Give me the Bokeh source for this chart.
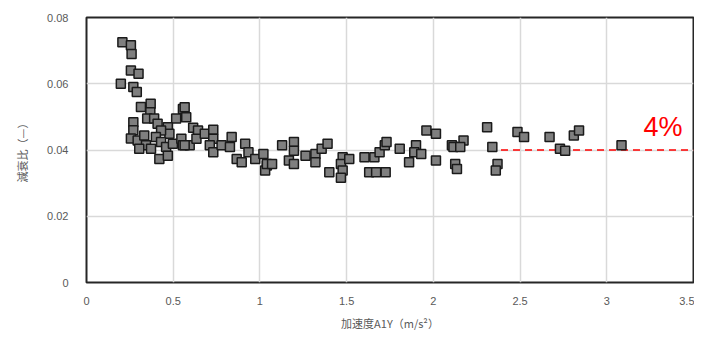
from bokeh.plotting import figure
from bokeh.models import ColumnDataSource, Label, FixedTicker
from bokeh.embed import file_html
from bokeh.resources import INLINE

# acceleration A1Y (m/s^2) and damping ratio (-)
accel = [0.207, 0.256, 0.26, 0.256, 0.30, 0.198, 0.27, 0.29, 0.314, 0.37,
         0.368, 0.35, 0.39, 0.27, 0.27, 0.556, 0.575, 0.517, 0.41, 0.469,
         0.478, 0.43, 0.256, 0.295, 0.333, 0.343, 0.304, 0.372, 0.40, 0.43,
         0.459, 0.498, 0.547, 0.556, 0.42, 0.469, 0.595,
         0.566, 0.566, 0.615, 0.643, 0.634, 0.682, 0.731, 0.731, 0.711,
         0.731, 0.779, 0.827, 0.837, 0.915, 0.934, 0.866, 0.895, 0.973,
         1.02, 1.04, 1.03,
         1.04, 1.07, 1.128, 1.196, 1.196, 1.167, 1.196, 1.263, 1.32, 1.32,
         1.356, 1.39, 1.40, 1.477, 1.467, 1.515, 1.477, 1.467,
         1.603, 1.66, 1.69, 1.72, 1.73, 1.63, 1.67, 1.725, 1.806, 1.90,
         1.89, 1.93, 1.86, 1.96, 2.015, 2.015, 2.107,
         2.116, 2.174, 2.155, 2.126, 2.136, 2.31, 2.34, 2.37, 2.36, 2.485,
         2.523, 2.67, 2.73, 2.76, 2.81, 2.84, 3.085]
damping = [0.0725, 0.0716, 0.069, 0.064, 0.063, 0.060, 0.059, 0.0575, 0.053, 0.054,
           0.0514, 0.0495, 0.0495, 0.0484, 0.046, 0.0524, 0.0499, 0.0495, 0.0479, 0.0469,
           0.0449, 0.0459, 0.0435, 0.0429, 0.0444, 0.0414, 0.0404, 0.0404, 0.0439, 0.0424,
           0.0409, 0.0419, 0.0434, 0.0414, 0.0373, 0.0383, 0.0414,
           0.0529, 0.0414, 0.0467, 0.0459, 0.0434, 0.0449, 0.0461, 0.0434, 0.0414,
           0.0393, 0.0414, 0.0409, 0.0439, 0.0419, 0.0393, 0.0373, 0.0363, 0.0373,
           0.0388, 0.0353, 0.0338,
           0.0358, 0.0358, 0.0414, 0.0424, 0.0398, 0.0368, 0.0358, 0.0383, 0.0388, 0.0363,
           0.0404, 0.0419, 0.0333, 0.0378, 0.0358, 0.0373, 0.0338, 0.0316,
           0.0378, 0.0378, 0.0393, 0.0414, 0.0424, 0.0333, 0.0333, 0.0333, 0.0404, 0.0414,
           0.0393, 0.0388, 0.0363, 0.0459, 0.0449, 0.0368, 0.0414,
           0.0409, 0.0429, 0.0409, 0.0358, 0.0343, 0.0469, 0.0409, 0.0358, 0.0338, 0.0454,
           0.0439, 0.0439, 0.0404, 0.0398, 0.0444, 0.0459, 0.0414]

x_ticks = [0, 0.5, 1, 1.5, 2, 2.5, 3, 3.5]
y_ticks = [0, 0.02, 0.04, 0.06, 0.08]
threshold = 0.04
threshold_x = [2.39, 3.5]

src = ColumnDataSource(dict(x=accel, y=damping))

p = figure(width=694, height=337, output_backend="svg", toolbar_location=None,
           x_range=(0, 3.5), y_range=(0, 0.08),
           min_border_left=86, min_border_right=1, min_border_top=17, min_border_bottom=55)

p.outline_line_color = "#262626"
p.outline_line_width = 2

for ax in (p.xaxis, p.yaxis):
    ax.axis_line_color = None
    ax.major_tick_line_color = None
    ax.minor_tick_line_color = None
    ax.major_label_text_font = "Liberation Sans"
    ax.major_label_text_font_size = "11px"
    ax.major_label_text_color = "#595959"
    ax.axis_label_text_font = "Noto Sans CJK JP"
    ax.axis_label_text_font_size = "11px"
    ax.axis_label_text_font_style = "normal"
    ax.axis_label_text_color = "#595959"

p.xaxis.ticker = FixedTicker(ticks=x_ticks)
p.yaxis.ticker = FixedTicker(ticks=y_ticks)
p.xaxis.major_label_overrides = {0: "0", 0.5: "0.5", 1: "1", 1.5: "1.5", 2: "2", 2.5: "2.5", 3: "3", 3.5: "3.5"}
p.yaxis.major_label_overrides = {0: "0", 0.02: "0.02", 0.04: "0.04", 0.06: "0.06", 0.08: "0.08"}
p.xaxis.major_label_standoff = 8
p.yaxis.major_label_standoff = 12
p.xaxis.axis_label = "加速度A1Y（m/s²）"
p.yaxis.axis_label = "減衰比（—）"
p.xaxis.axis_label_standoff = 7
p.yaxis.axis_label_standoff = 14

p.xgrid.grid_line_color = "#d9d9d9"
p.ygrid.grid_line_color = "#d9d9d9"
p.xgrid.grid_line_width = 1.5
p.ygrid.grid_line_width = 1.5

p.line(threshold_x, [threshold, threshold], line_color="#ff0000", line_width=1.5, line_dash="7 5")

p.scatter("x", "y", source=src, marker="square", size=9,
          fill_color="#7f7f7f", line_color="#1a1a1a", line_width=1.5)

p.add_layout(Label(x=3.5, y=threshold, text="4%", x_offset=-50, y_offset=8,
                   text_color="#ff0000", text_font="Liberation Sans",
                   text_font_size="27px"))

open("out.html", "w").write(file_html(p, INLINE))
